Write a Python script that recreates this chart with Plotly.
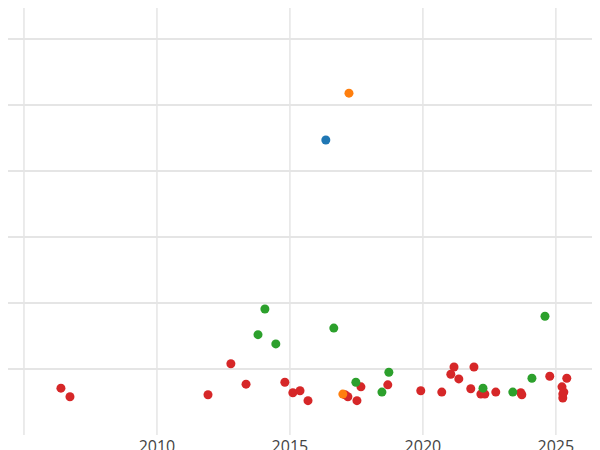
import plotly.graph_objects as go

red_x = [2006.39,2006.73,2011.92,2012.78,2013.35,2014.81,2015.11,2015.38,2015.68,2017.07,2017.18,2017.52,2017.67,2018.68,2019.92,2020.71,2021.05,2021.17,2021.35,2021.80,2021.92,2022.18,2022.33,2022.74,2023.68,2023.72,2024.77,2025.23,2025.26,2025.26,2025.30,2025.41]
red_y = [-0.29,-0.42,-0.39,0.08,-0.23,-0.20,-0.36,-0.33,-0.48,-0.39,-0.42,-0.48,-0.27,-0.24,-0.33,-0.35,-0.08,0.03,-0.15,-0.30,0.03,-0.38,-0.38,-0.35,-0.36,-0.39,-0.11,-0.27,-0.44,-0.38,-0.35,-0.14]
green_x = [2014.06,2013.80,2014.47,2016.65,2017.48,2018.46,2018.72,2022.26,2023.38,2024.10,2024.59]
green_y = [0.91,0.52,0.38,0.62,-0.20,-0.35,-0.05,-0.29,-0.35,-0.14,0.80]
blue_x = [2016.35]
blue_y = [3.47]
orange_x = [2017.22,2016.99]
orange_y = [4.18,-0.38]

fig = go.Figure()
for xs, ys, c in [(red_x, red_y, "#d62728"), (green_x, green_y, "#2ca02c"),
                  (orange_x, orange_y, "#ff7f0e"), (blue_x, blue_y, "#1f77b4")]:
    fig.add_trace(go.Scatter(x=xs, y=ys, mode="markers", marker=dict(color=c, size=9), showlegend=False))

fig.update_layout(
    template="plotly_white", width=600, height=450,
    margin=dict(l=0, r=0, t=0, b=23, pad=0, autoexpand=False),
    xaxis=dict(range=[2004.4, 2026.96], tickvals=[2010, 2015, 2020, 2025], showgrid=False,
               zeroline=False, ticklabelstandoff=0, tickfont=dict(size=16, color="#444")),
    yaxis=dict(range=[-1.0, 5.47], dtick=1, showticklabels=False, zeroline=False,
               gridcolor="#e5e5e5", gridwidth=1.5),
)
for v in [2005, 2010, 2015, 2020, 2025]:
    fig.add_vline(x=v, line=dict(color="#e5e5e5", width=1.5), layer="below")
fig.write_html("out.html")
